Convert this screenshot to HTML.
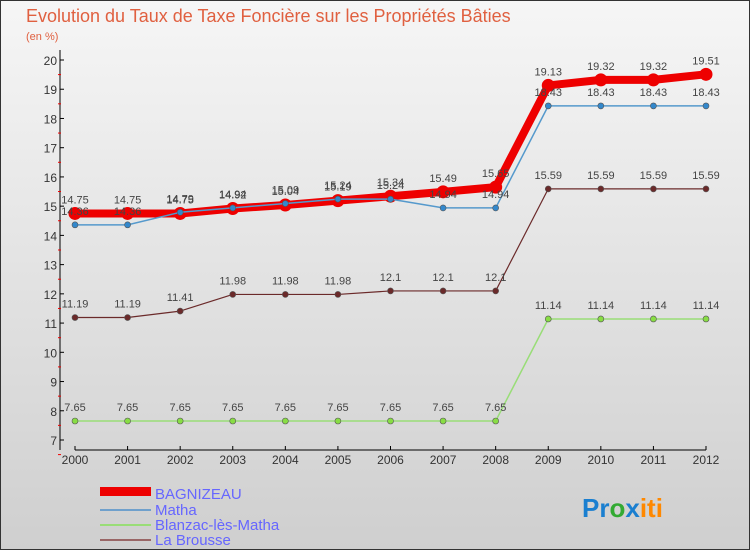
<!DOCTYPE html>
<html><head><meta charset="utf-8"><style>
body{margin:0}
#c{width:750px;height:550px;position:relative;overflow:hidden;font-family:"Liberation Sans",sans-serif}
</style></head><body>
<div id="c">
<svg id="s" width="750" height="550" xmlns="http://www.w3.org/2000/svg">
<defs><linearGradient id="bg" x1="0" y1="0" x2="0" y2="1"><stop offset="0" stop-color="#f6f6f6"/><stop offset="1" stop-color="#cfcfcf"/></linearGradient></defs>
<rect x="0.5" y="0.5" width="749" height="549" fill="url(#bg)" stroke="#333"/>
<text x="26" y="22" font-size="18" fill="#e06040">Evolution du Taux de Taxe Foncière sur les Propriétés Bâties</text>
<text x="26" y="40" font-size="11" fill="#e06040">(en %)</text>
<g id="axes"></g><g id="plot"></g>
<g>
<rect x="100" y="487" width="51" height="9" fill="#e00"/>
<text x="155" y="499" font-size="15" fill="#6666ff">BAGNIZEAU</text>
<rect x="100" y="509" width="51" height="2" fill="#6fa0cc"/>
<text x="155" y="515" font-size="15" fill="#6666ff">Matha</text>
<rect x="100" y="524" width="51" height="2" fill="#99dd77"/>
<text x="155" y="530" font-size="15" fill="#6666ff">Blanzac-lès-Matha</text>
<rect x="100" y="539" width="51" height="2" fill="#996666"/>
<text x="155" y="545" font-size="15" fill="#6666ff">La Brousse</text>
</g>
<text x="582" y="517" font-size="26" font-weight="bold"><tspan fill="#1a7fd0">Pr</tspan><tspan fill="#33aa33">o</tspan><tspan fill="#1a7fd0">x</tspan><tspan fill="#ff8800">iti</tspan></text>
</svg></div>
<script>
const years=["2000","2001","2002","2003","2004","2005","2006","2007","2008","2009","2010","2011","2012"];
const yTicks=[7,8,9,10,11,12,13,14,15,16,17,18,19,20];
const bagnizeau=[14.75,14.75,14.75,14.92,15.04,15.19,15.34,15.49,15.65,19.13,19.32,19.32,19.51];
const matha=[14.36,14.36,14.79,14.94,15.09,15.24,15.24,14.94,14.94,18.43,18.43,18.43,18.43];
const blanzac=[7.65,7.65,7.65,7.65,7.65,7.65,7.65,7.65,7.65,11.14,11.14,11.14,11.14];
const labrousse=[11.19,11.19,11.41,11.98,11.98,11.98,12.1,12.1,12.1,15.59,15.59,15.59,15.59];
const NS="http://www.w3.org/2000/svg";
const X=i=>75+i*(706-75)/12;
const Y=v=>440-(v-7)*(380/13);
function mk(t,a,p){const e=document.createElementNS(NS,t);for(const k in a)e.setAttribute(k,a[k]);p.appendChild(e);return e;}
const ax=document.getElementById('axes'),pl=document.getElementById('plot');
const yl=mk('line',{x1:60,y1:50,x2:60,y2:450,stroke:'#000'},ax);


const xl=mk('line',{x1:75,y1:450,x2:706,y2:450,stroke:'#000'},ax);


yTicks.forEach(v=>{mk('line',{x1:60,y1:Y(v),x2:64,y2:Y(v),stroke:'#000'},ax);
mk('line',{x1:58,y1:Y(v)+14.6,x2:61,y2:Y(v)+14.6,stroke:'#e00'},ax);
const t=mk('text',{x:57,y:Y(v)+5,'font-size':12,'text-anchor':'end',fill:'#333'},ax);t.textContent=v;

});
years.forEach((y,i)=>{mk('line',{x1:X(i),y1:446,x2:X(i),y2:450,stroke:'#000'},ax);
const t=mk('text',{x:X(i),y:464,'font-size':12,'text-anchor':'middle',fill:'#333'},ax);t.textContent=y;

});
function series(d,col,w,r,dotFill,name,above){
const pts=d.map((v,i)=>X(i)+','+Y(v)).join(' ');
const pll=mk('polyline',{points:pts,fill:'none',stroke:col,'stroke-width':w,'stroke-linejoin':'round'},pl);


d.forEach((v,i)=>{const c=mk('circle',{cx:X(i),cy:Y(v),r:r,fill:dotFill,stroke:w>3?col:'#555','stroke-width':w>3?1:0.6},pl);


const t=mk('text',{x:X(i),y:Y(v)+(above?-10:-10),'font-size':11,'text-anchor':'middle',fill:'#444'},pl);t.textContent=v;

});}
series(blanzac,'#99dd77',1.5,3,'#88dd44','blanzac');
series(labrousse,'#6b2a2a',1.2,3,'#6b2a2a','la-brousse');
series(bagnizeau,'#ee0000',8,6,'#ee0000','bagnizeau');
series(matha,'#5599cc',1.5,3,'#3388cc','matha');
</script>
</body></html>
